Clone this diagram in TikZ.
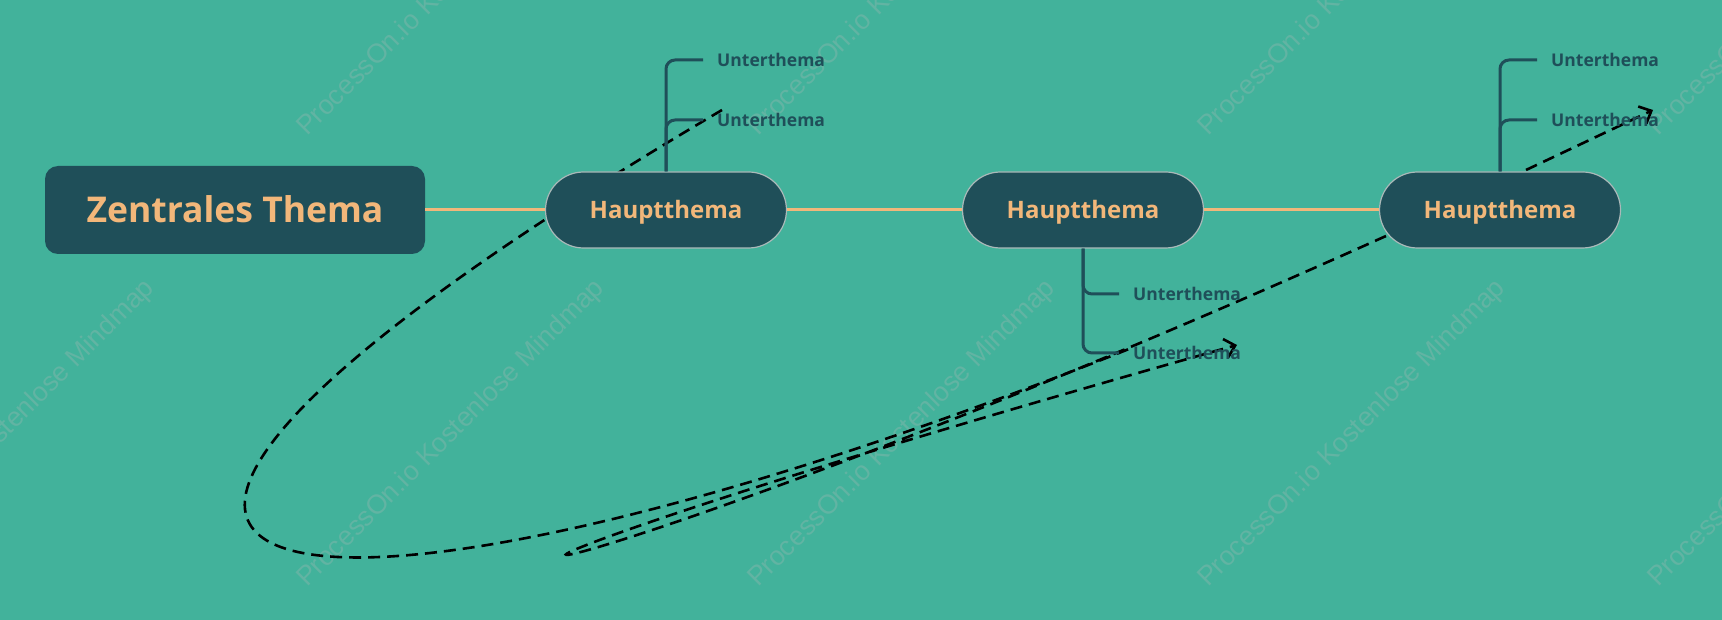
\documentclass[tikz,border=0pt]{standalone}
\usepackage{fontspec}
\setmainfont{Open Sans}
\newfontfamily\wmfont{Liberation Sans}
\usetikzlibrary{arrows.meta,calc}
\definecolor{bg}{HTML}{42B29B}
\definecolor{dark}{HTML}{1F4F59}
\definecolor{orng}{HTML}{F2B77A}
\definecolor{wm}{RGB}{98,180,163}
\definecolor{rim}{RGB}{170,185,185}
\pgfdeclarelayer{back}
\pgfsetlayers{back,main}
\begin{document}
\begin{tikzpicture}[x=1pt,y=-1pt,
  central/.style={fill=dark, rounded corners=13pt, minimum width=380pt, minimum height=88pt, text=orng, font=\fontsize{35.5}{40}\selectfont\bfseries, inner sep=0pt, text height=25.4pt, text depth=0pt},
  mainbox/.style={fill=dark, draw=rim, line width=1.2pt, rounded corners=38pt, minimum width=241pt, minimum height=76pt, text=orng, font=\fontsize{24}{28}\selectfont\bfseries, inner sep=0pt, text height=17.1pt, text depth=0pt},
  subbox/.style={text=dark, font=\fontsize{17.5}{22}\selectfont\bfseries, inner xsep=14pt, inner ysep=0pt, anchor=west, text height=12.5pt, text depth=0pt},
  trunk/.style={draw=orng, line width=3pt},
  branch/.style={draw=dark, line width=3pt, rounded corners=9pt},
  link/.style={draw=black, line width=2.6pt, dash pattern=on 12pt off 7pt},
  tip/.style={-{Straight Barb[length=10pt,width=19pt,line width=2.6pt]}},
  wmark/.style={text=wm, font=\wmfont\fontsize{27}{30}\selectfont, rotate=45, anchor=base west, inner sep=0pt}
]
\useasboundingbox (0,0) rectangle (1722,620);

\node[central] (c) at (235,210) {Zentrales Thema};
\node[mainbox] (h1) at (666,210) {Hauptthema};
\node[mainbox] (h2) at (1083,210) {Hauptthema};
\node[mainbox] (h3) at (1500,210) {Hauptthema};
\node[subbox] (u11) at (703,60) {Unterthema};
\node[subbox] (u12) at (703,120) {Unterthema};
\node[subbox] (u21) at (1119,294) {Unterthema};
\node[subbox] (u22) at (1119,353) {Unterthema};
\node[subbox] (u31) at (1537,60) {Unterthema};
\node[subbox] (u32) at (1537,120) {Unterthema};

\draw[trunk] (c.east) -- (h1.west);
\draw[trunk] (h1.east) -- (h2.west);
\draw[trunk] (h2.east) -- (h3.west);

\draw[branch] (h1.north) |- (u11.west);
\draw[branch] (h1.north) |- (u12.west);
\draw[branch] (h2.south) |- (u21.west);
\draw[branch] (h2.south) |- (u22.west);
\draw[branch] (h3.north) |- (u31.west);
\draw[branch] (h3.north) |- (u32.west);

\coordinate (s1) at (722,110);
\coordinate (e1) at (1134,347);
\coordinate (s2) at (1386,236);
\coordinate (e2) at (1237,345);
\coordinate (s3) at (1526,170);
\coordinate (e3) at (1653,110);

\begin{pgfonlayer}{back}
\fill[bg] (0,0) rectangle (1722,620);
\foreach \wx in {-143,307,758,1208,1658}{
  \foreach \wy in {137,588}{
    \node[wmark] at (\wx,\wy) {ProcessOn.io Kostenlose Mindmap};
  }
}
\draw[link] (s1) .. controls (-160,630) and (300,680) .. (e1);
\draw[link, tip] (s2) .. controls (494,637) and (170,644) .. (e2);
\draw[link, tip] (s3) -- (e3);
\end{pgfonlayer}
\end{tikzpicture}
\end{document}
